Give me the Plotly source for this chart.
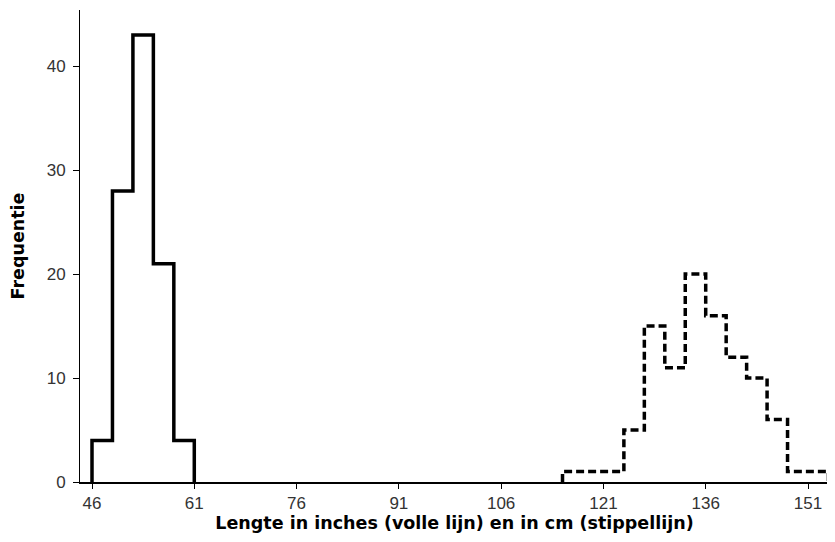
import plotly.graph_objects as go

# Data
inch_lower_edges = [46, 49, 52, 55, 58]
inch_counts = [4, 28, 43, 21, 4]
cm_lower_edges = [115, 118, 121, 124, 127, 130, 133, 136, 139, 142, 145, 148, 151]
cm_counts = [1, 1, 1, 5, 15, 11, 20, 16, 12, 10, 6, 1, 1]
bin_width = 3
x_ticks = [46, 61, 76, 91, 106, 121, 136, 151]
y_ticks = [0, 10, 20, 30, 40]


def step_outline(lower_edges, counts, width):
    xs = [lower_edges[0]] + list(lower_edges) + [lower_edges[-1] + width, lower_edges[-1] + width]
    ys = [0] + list(counts) + [counts[-1], 0]
    return xs, ys


fig = go.Figure()
xi, yi = step_outline(inch_lower_edges, inch_counts, bin_width)
fig.add_trace(go.Scatter(x=xi, y=yi, mode="lines", line=dict(shape="hv", color="black", width=3.5),
                         hoverinfo="skip", showlegend=False))
xc, yc = step_outline(cm_lower_edges, cm_counts, bin_width)
fig.add_trace(go.Scatter(x=xc, y=yc, mode="lines",
                         line=dict(shape="hv", color="black", width=3.5, dash="8px,4px"),
                         hoverinfo="skip", showlegend=False))

tick_font = dict(family="Liberation Sans, Arial, sans-serif", size=17, color="#333")
title_font = dict(family="DejaVu Sans, sans-serif", size=17.5, color="black")

fig.update_layout(
    width=835, height=542,
    margin=dict(l=72, r=14, t=2, b=68),
    plot_bgcolor="white", paper_bgcolor="white",
    font=tick_font,
)
fig.update_xaxes(
    range=[44.24, 154.08], tickvals=x_ticks, ticktext=[str(v) for v in x_ticks],
    showgrid=False, zeroline=False, showline=True, linecolor="black", linewidth=2,
    ticks="outside", ticklen=5, tickcolor="black", tickwidth=1,
    tickfont=tick_font,
    title=dict(text="<b>Lengte in inches (volle lijn) en in cm (stippellijn)</b>",
               font=title_font, standoff=1),
)
fig.update_yaxes(
    range=[0, 45.4], tickvals=y_ticks, ticktext=[str(v) for v in y_ticks],
    showgrid=False, zeroline=False, showline=True, linecolor="black", linewidth=1,
    ticks="outside", ticklen=6, tickcolor="black", tickwidth=1, ticklabelstandoff=4,
    tickfont=tick_font,
    title=dict(text="<b>Frequentie</b>", font=title_font, standoff=24),
)

fig.write_html("out.html")
